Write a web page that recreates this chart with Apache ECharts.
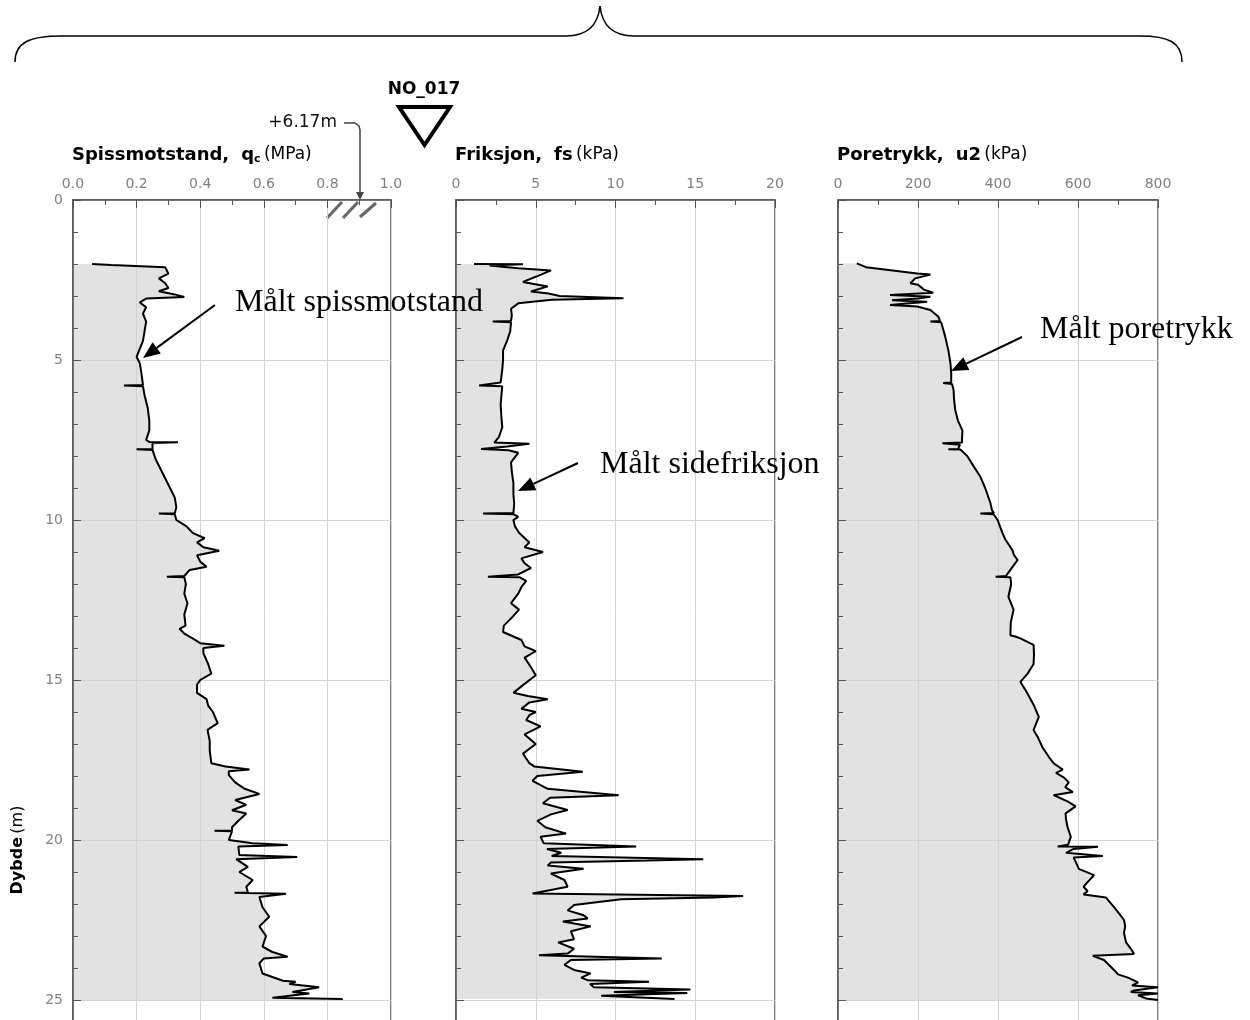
<!DOCTYPE html>
<html>
<head>
<meta charset="utf-8">
<title>CPTU NO_017</title>
<script src="https://cdn.jsdelivr.net/npm/echarts@6.0.0/dist/echarts.min.js"></script>
<style>
  html, body { margin: 0; padding: 0; background: #fff; }
  #main { width: 1250px; height: 1020px; }
</style>
</head>
<body>
<div id="main"></div>
<script>
// Spissmotstand qc (MPa) mot dybde (m)
var qcDepth = [2.00, 2.03, 2.10, 2.30, 2.45, 2.60, 2.75, 2.85, 2.95, 3.03, 3.08, 3.20, 3.35, 3.55, 3.80, 4.10, 4.40, 4.65, 4.90, 5.10,
  5.40, 5.78, 5.80, 5.82, 6.10, 6.50, 6.90, 7.20, 7.50, 7.56, 7.57, 7.60, 7.78, 7.79, 7.81, 8.10, 8.50, 8.90, 9.30, 9.60,
  9.79, 9.80, 9.82, 10.00, 10.20, 10.40, 10.57, 10.70, 10.85, 10.96, 11.10, 11.30, 11.46, 11.56, 11.75, 11.77, 11.79, 12.00, 12.30, 12.60,
  12.95, 13.30, 13.40, 13.55, 13.70, 13.85, 13.93, 14.00, 14.16, 14.50, 14.80, 15.00, 15.15, 15.40, 15.60, 15.80, 16.00, 16.35, 16.56, 16.90,
  17.20, 17.60, 17.70, 17.80, 17.85, 17.97, 18.20, 18.40, 18.56, 18.75, 18.90, 19.07, 19.17, 19.40, 19.60, 19.70, 19.71, 19.73, 20.00, 20.10,
  20.16, 20.20, 20.26, 20.47, 20.53, 20.60, 20.84, 21.00, 21.25, 21.46, 21.64, 21.65, 21.68, 21.78, 22.10, 22.40, 22.70, 23.00, 23.33, 23.50,
  23.65, 23.70, 23.85, 24.17, 24.40, 24.43, 24.50, 24.60, 24.75, 24.80, 24.93, 24.97, 25.00];
var qcVal = [0.06, 0.12, 0.29, 0.30, 0.27, 0.29, 0.30, 0.27, 0.32, 0.35, 0.23, 0.21, 0.23, 0.22, 0.23, 0.225, 0.22, 0.21, 0.20, 0.21,
  0.215, 0.22, 0.16, 0.22, 0.225, 0.235, 0.24, 0.24, 0.23, 0.24, 0.33, 0.25, 0.25, 0.20, 0.25, 0.26, 0.28, 0.30, 0.32, 0.325,
  0.32, 0.27, 0.32, 0.325, 0.357, 0.376, 0.414, 0.39, 0.41, 0.46, 0.39, 0.40, 0.42, 0.367, 0.35, 0.295, 0.35, 0.355, 0.35, 0.36,
  0.35, 0.354, 0.335, 0.35, 0.376, 0.40, 0.476, 0.41, 0.41, 0.425, 0.435, 0.40, 0.39, 0.39, 0.42, 0.425, 0.44, 0.455, 0.423, 0.43,
  0.43, 0.435, 0.48, 0.555, 0.49, 0.49, 0.51, 0.54, 0.586, 0.51, 0.545, 0.50, 0.545, 0.52, 0.50, 0.50, 0.445, 0.50, 0.49, 0.565,
  0.675, 0.52, 0.518, 0.523, 0.705, 0.513, 0.55, 0.523, 0.565, 0.545, 0.55, 0.508, 0.67, 0.586, 0.596, 0.617, 0.586, 0.607, 0.596, 0.627,
  0.675, 0.60, 0.586, 0.596, 0.66, 0.70, 0.68, 0.774, 0.69, 0.743, 0.627, 0.846, 0.846];

// Friksjon fs (kPa)
var fsDepth = [2.00, 2.01, 2.05, 2.13, 2.20, 2.40, 2.56, 2.62, 2.70, 2.86, 2.92, 3.00, 3.07, 3.12, 3.23, 3.40, 3.60, 3.78, 3.80, 3.82,
  4.10, 4.40, 4.70, 5.00, 5.30, 5.70, 5.80, 5.82, 6.10, 6.40, 6.80, 7.10, 7.40, 7.58, 7.62, 7.70, 7.78, 7.82, 7.90, 8.20,
  8.50, 8.85, 9.20, 9.50, 9.78, 9.80, 9.82, 9.90, 10.00, 10.20, 10.40, 10.70, 10.85, 11.00, 11.20, 11.35, 11.50, 11.70, 11.77, 11.79,
  11.90, 12.10, 12.30, 12.60, 12.80, 13.05, 13.30, 13.50, 13.75, 13.95, 14.10, 14.30, 14.60, 14.85, 15.20, 15.40, 15.50, 15.60, 15.70, 15.90,
  16.00, 16.10, 16.25, 16.45, 16.70, 17.00, 17.30, 17.60, 17.70, 17.87, 18.00, 18.15, 18.40, 18.60, 18.68, 18.85, 19.06, 19.20, 19.40, 19.60,
  19.80, 19.90, 20.10, 20.20, 20.28, 20.40, 20.50, 20.60, 20.64, 20.70, 20.80, 20.90, 21.05, 21.25, 21.46, 21.55, 21.67, 21.75, 21.80, 21.85,
  22.03, 22.20, 22.35, 22.45, 22.55, 22.62, 22.70, 22.85, 23.10, 23.20, 23.40, 23.55, 23.60, 23.70, 23.75, 23.90, 24.06, 24.17, 24.30, 24.38,
  24.43, 24.50, 24.60, 24.67, 24.75, 24.78, 24.87, 24.97];
var fsVal = [1.13, 4.2, 2.1, 3.9, 5.96, 5.0, 4.2, 4.8, 5.75, 4.7, 5.8, 6.5, 10.5, 6.0, 3.9, 3.45, 3.5, 3.45, 2.3, 3.45,
  3.4, 3.2, 2.95, 2.95, 2.9, 2.8, 1.45, 2.9, 2.85, 2.8, 2.85, 2.9, 2.7, 2.4, 4.6, 3.2, 1.57, 3.3, 3.9, 3.45,
  3.5, 3.6, 3.6, 3.65, 3.6, 1.7, 3.6, 3.9, 3.6, 3.7, 3.95, 4.6, 4.3, 5.45, 4.1, 4.3, 4.7, 3.9, 2.0, 4.0,
  4.4, 4.1, 3.9, 3.45, 3.95, 3.5, 3.0, 2.95, 4.1, 4.3, 5.0, 4.3, 4.7, 5.0, 4.1, 3.6, 4.5, 5.75, 4.6, 4.1,
  5.0, 4.6, 4.4, 5.3, 4.3, 5.0, 4.2, 4.6, 4.9, 7.95, 5.1, 4.8, 5.75, 10.2, 5.9, 5.45, 7.0, 5.95, 5.1, 5.6,
  6.9, 5.3, 5.5, 11.3, 5.7, 6.6, 6.0, 15.5, 12.0, 5.95, 5.75, 8.0, 5.95, 6.8, 7.0, 6.1, 4.8, 18.0, 16.2, 10.35,
  7.4, 7.0, 8.0, 8.25, 6.7, 7.5, 8.45, 7.2, 7.4, 6.4, 7.4, 7.0, 5.2, 12.9, 7.2, 6.8, 7.4, 8.45, 7.85, 8.25,
  12.1, 8.4, 8.65, 14.7, 9.9, 14.5, 9.1, 13.7];

// Poretrykk u2 (kPa)
var u2Depth = [1.98, 2.10, 2.13, 2.30, 2.33, 2.45, 2.60, 2.65, 2.80, 2.90, 2.97, 3.02, 3.08, 3.13, 3.18, 3.28, 3.33, 3.44, 3.65, 3.78,
  3.80, 3.82, 4.00, 4.27, 4.70, 5.10, 5.40, 5.70, 5.72, 5.75, 5.94, 6.20, 6.56, 6.90, 7.20, 7.50, 7.58, 7.60, 7.65, 7.78,
  7.79, 7.80, 8.00, 8.30, 8.65, 9.00, 9.47, 9.70, 9.78, 9.80, 9.82, 10.00, 10.40, 10.60, 10.94, 11.10, 11.25, 11.40, 11.56, 11.75,
  11.77, 11.79, 12.00, 12.40, 12.80, 13.20, 13.60, 13.65, 13.70, 13.90, 14.20, 14.50, 14.80, 15.06, 15.30, 15.50, 15.80, 16.15, 16.56, 16.80,
  17.10, 17.40, 17.60, 17.80, 17.90, 18.05, 18.20, 18.35, 18.50, 18.60, 18.80, 18.95, 19.17, 19.35, 19.60, 19.90, 20.15, 20.20, 20.21, 20.28,
  20.40, 20.50, 20.55, 20.70, 20.90, 21.10, 21.30, 21.46, 21.60, 21.70, 21.80, 22.10, 22.30, 22.50, 22.70, 22.90, 23.20, 23.45, 23.56, 23.62,
  23.75, 24.06, 24.20, 24.30, 24.45, 24.55, 24.60, 24.70, 24.75, 24.80, 24.85, 24.95, 25.00];
var u2Val = [47, 70, 73, 198, 231, 193, 181, 200, 215, 238, 130, 231, 200, 135, 223, 130, 198, 231, 251, 255,
  231, 258, 262, 268, 276, 281, 283, 283, 263, 285, 289, 290, 293, 300, 311, 310, 310, 261, 305, 300,
  276, 306, 323, 338, 356, 368, 381, 385, 390, 356, 389, 399, 411, 418, 436, 440, 449, 440, 431, 420,
  394, 431, 433, 426, 439, 432, 431, 445, 456, 489, 490, 489, 474, 456, 468, 477, 490, 502, 489, 500,
  511, 527, 539, 562, 545, 565, 577, 568, 587, 539, 575, 594, 569, 570, 574, 582, 575, 549, 650, 589,
  570, 662, 589, 595, 602, 640, 625, 614, 624, 614, 670, 690, 703, 715, 718, 715, 720, 735, 740, 637,
  665, 690, 700, 725, 750, 735, 800, 740, 732, 800, 750, 770, 800];

// akser
var xMax = [1.0, 20, 800];
var xStep = [0.2, 5, 200];
var depthMax = 30;
var depthStep = 5;
var titles = [
  '{b|Spissmotstand,}{g|}{b|q}{s|c} {n|(MPa)}',
  '{b|Friksjon,}{g|}{b|fs} {n|(kPa)}',
  '{b|Poretrykk,}{g|}{b|u2} {n|(kPa)}'
];
var gridLeft = [73, 456, 838];
var gridWidth = [318, 319, 320];

var chart = echarts.init(document.getElementById('main'), null, { renderer: 'canvas' });

function pairs(d, v) {
  var out = [];
  for (var i = 0; i < d.length; i++) out.push([v[i], d[i]]);
  return out;
}

// gra flate fra 0 til kurven
function fillItem(d, v) {
  return function (params, api) {
    var pts = [api.coord([0, d[0]])];
    for (var i = 0; i < d.length; i++) pts.push(api.coord([v[i], d[i]]));
    pts.push(api.coord([0, d[d.length - 1]]));
    return { type: 'polygon', shape: { points: pts }, style: { fill: '#e2e2e2' }, silent: true };
  };
}

function arrow(x1, y1, x2, y2) {
  var a = Math.atan2(y2 - y1, x2 - x1), L = 17, W = 7;
  var bx = x2 - L * Math.cos(a), by = y2 - L * Math.sin(a);
  return [
    { type: 'line', shape: { x1: x1, y1: y1, x2: bx, y2: by }, style: { stroke: '#000', lineWidth: 2 } },
    { type: 'polygon', shape: { points: [[x2, y2], [bx + W * Math.sin(a), by - W * Math.cos(a)], [bx - W * Math.sin(a), by + W * Math.cos(a)]] }, style: { fill: '#000' } }
  ];
}

var grids = [], xAxes = [], yAxes = [], series = [];
var depths = [qcDepth, fsDepth, u2Depth];
var vals = [qcVal, fsVal, u2Val];

for (var i = 0; i < 3; i++) {
  grids.push({
    left: gridLeft[i], top: 200, width: gridWidth[i], height: depthMax * 32,
    show: true, borderColor: '#555', borderWidth: 1.5, backgroundColor: 'transparent',
    outerBoundsMode: 'none', containLabel: false
  });
  xAxes.push({
    type: 'value', gridIndex: i, position: 'top', min: 0, max: xMax[i], interval: xStep[i],
    axisLine: { show: true, lineStyle: { color: '#555', width: 1.5 } },
    axisTick: { show: true, inside: true, length: 8, lineStyle: { color: '#555' } },
    minorTick: { show: true, splitNumber: 2, length: 5, lineStyle: { color: '#555' } },
    splitLine: { show: true, lineStyle: { color: '#d2d2d2', width: 1 } },
    axisLabel: {
      color: '#808080', fontSize: 14, fontFamily: 'DejaVu Sans', margin: 9,
      formatter: i === 0 ? function (v) { return v.toFixed(1); } : null
    }
  });
  yAxes.push({
    type: 'value', gridIndex: i, inverse: true, min: 0, max: depthMax, interval: depthStep,
    axisLine: { show: true, lineStyle: { color: '#555', width: 1.5 } },
    axisTick: { show: true, inside: true, length: 8, lineStyle: { color: '#555' } },
    minorTick: { show: true, splitNumber: 5, length: 5, lineStyle: { color: '#555' } },
    splitLine: { show: true, lineStyle: { color: '#d2d2d2', width: 1 } },
    axisLabel: { show: i === 0, color: '#808080', fontSize: 14, fontFamily: 'DejaVu Sans', margin: 10 }
  });
  series.push({
    type: 'custom', xAxisIndex: i, yAxisIndex: i, z: -1, silent: true,
    renderItem: fillItem(depths[i], vals[i]), data: [[0, 0]]
  });
  series.push({
    type: 'line', xAxisIndex: i, yAxisIndex: i, z: 3, showSymbol: false, symbol: 'none',
    lineStyle: { color: '#000', width: 2 }, data: pairs(depths[i], vals[i])
  });
}

var richTitle = {
  b: { fontFamily: 'DejaVu Sans', fontWeight: 'bold', fontSize: 18, color: '#111' },
  g: { width: 12 },
  s: { fontFamily: 'DejaVu Sans', fontWeight: 'bold', fontSize: 11, color: '#111', padding: [8, 0, 0, 0] },
  n: { fontFamily: 'DejaVu Sans', fontSize: 17, color: '#333' }
};

var graphics = [];
for (var t = 0; t < 3; t++) {
  graphics.push({
    type: 'text', x: gridLeft[t] - 1, y: 155,
    style: { text: titles[t], rich: richTitle, textAlign: 'left', textVerticalAlign: 'middle' }
  });
}

// klamme over figuren
var brace = [
  { type: 'bezierCurve', shape: { x1: 15, y1: 62, cpx1: 15, cpy1: 42, cpx2: 30, cpy2: 36, x2: 62, y2: 36 } },
  { type: 'line', shape: { x1: 62, y1: 36, x2: 566, y2: 36 } },
  { type: 'bezierCurve', shape: { x1: 566, y1: 36, cpx1: 588, cpy1: 36, cpx2: 598, cpy2: 25, x2: 600, y2: 6 } },
  { type: 'bezierCurve', shape: { x1: 600, y1: 6, cpx1: 602, cpy1: 25, cpx2: 612, cpy2: 36, x2: 634, y2: 36 } },
  { type: 'line', shape: { x1: 634, y1: 36, x2: 1140, y2: 36 } },
  { type: 'bezierCurve', shape: { x1: 1140, y1: 36, cpx1: 1168, cpy1: 36, cpx2: 1182, cpy2: 42, x2: 1182, y2: 62 } }
];
brace.forEach(function (b) {
  b.style = { stroke: '#000', lineWidth: 1.5, fill: null };
  graphics.push(b);
});

// NO_017 og terreng
graphics.push({ type: 'text', x: 424, y: 90, style: { text: 'NO_017', font: 'bold 17px "DejaVu Sans"', fill: '#000', textAlign: 'center', textVerticalAlign: 'middle' } });
graphics.push({ type: 'polygon', shape: { points: [[399, 107], [450, 107], [424.5, 145]] }, style: { fill: null, stroke: '#000', lineWidth: 4, lineJoin: 'miter' } });
graphics.push({ type: 'text', x: 337, y: 123, style: { text: '+6.17m', font: '17px "DejaVu Sans"', fill: '#111', textAlign: 'right', textVerticalAlign: 'middle' } });
graphics.push({ type: 'polyline', shape: { points: [[344, 123], [355, 123], [359, 126], [360, 130], [360, 194]] }, style: { stroke: '#444', lineWidth: 1.5, fill: null } });
graphics.push({ type: 'polygon', shape: { points: [[356, 192], [364, 192], [360, 200]] }, style: { fill: '#444' } });
[[327, 218, 342, 202], [343, 218, 358, 202], [360, 217, 376, 203]].forEach(function (h) {
  graphics.push({ type: 'line', shape: { x1: h[0], y1: h[1], x2: h[2], y2: h[3] }, style: { stroke: '#666', lineWidth: 3 } });
});

// Dybde-tekst
graphics.push({
  type: 'text', x: 18, y: 850, rotation: Math.PI / 2,
  style: {
    text: '{b|Dybde} {n|(m)}', textAlign: 'center', textVerticalAlign: 'middle',
    rich: { b: { fontFamily: 'DejaVu Sans', fontWeight: 'bold', fontSize: 16, color: '#111' }, n: { fontFamily: 'DejaVu Sans', fontSize: 16, color: '#333' } }
  }
});

// merknader
var notes = [
  { text: 'Målt spissmotstand', x: 235, y: 303, a: [215, 305, 143, 358] },
  { text: 'Målt sidefriksjon', x: 600, y: 465, a: [578, 463, 518, 491] },
  { text: 'Målt poretrykk', x: 1040, y: 330, a: [1022, 337, 951, 371] }
];
notes.forEach(function (n) {
  graphics.push({ type: 'text', x: n.x, y: n.y, z: 10, style: { text: n.text, font: '32px "Liberation Serif"', fill: '#000', textAlign: 'left', textVerticalAlign: 'middle' } });
  arrow(n.a[0], n.a[1], n.a[2], n.a[3]).forEach(function (g) { g.z = 10; graphics.push(g); });
});

var option = {
  animation: false,
  backgroundColor: '#fff',
  grid: grids,
  xAxis: xAxes,
  yAxis: yAxes,
  series: series,
  graphic: { elements: graphics }
};
chart.setOption(option);
</script>
</body>
</html>
